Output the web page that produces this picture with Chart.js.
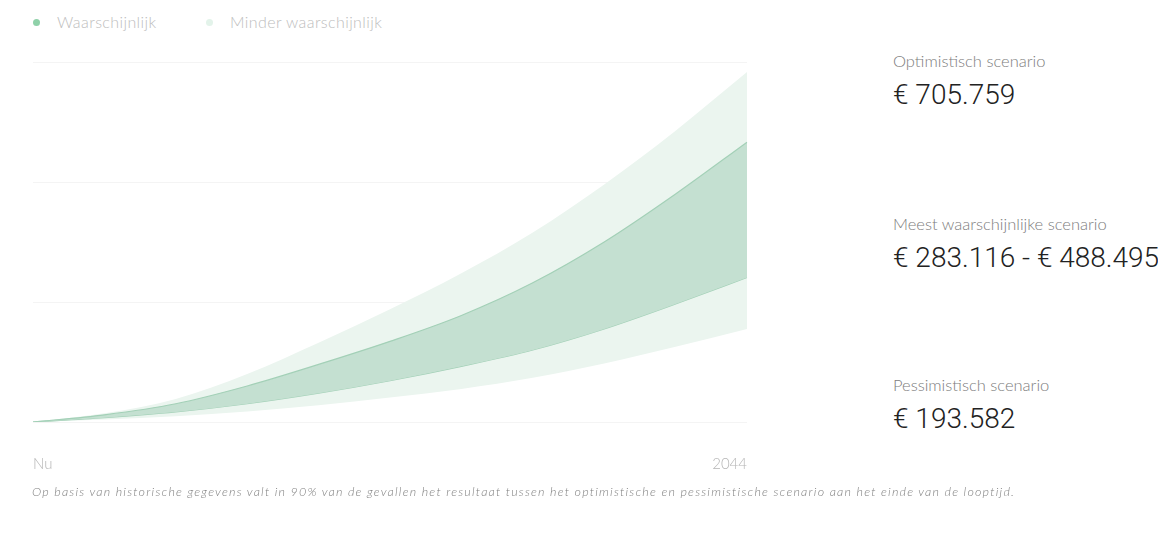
<!DOCTYPE html>
<html>
<head>
<meta charset="utf-8">
<script src="https://cdn.jsdelivr.net/npm/chart.js@4.4.1/dist/chart.umd.min.js"></script>
<style>
  body { margin: 0; background: #fff; width: 1158px; height: 533px; overflow: hidden; position: relative; font-family: Lato, "Noto Sans", sans-serif; }
  #wrap { position: absolute; left: 0; top: 0; width: 780px; height: 516px; }
  .legend { position: absolute; top: 12px; left: 33px; font-size: 16px; font-weight: 300; color: #bdbdbd; letter-spacing: 0.4px; }
  .legend span.item { position: absolute; white-space: nowrap; top: 0; }
  .legend i { position: absolute; width: 7px; height: 7px; border-radius: 50%; top: 7px; }
  .panel { position: absolute; left: 893px; }
  .panel .lbl { font-size: 16.5px; font-weight: 300; color: #7d7d7d; white-space: nowrap; }
  .panel .val { font-family: Roboto, sans-serif; font-weight: 300; font-size: 28px; color: #222; white-space: nowrap; margin-top: 7px; }
  .note { position: absolute; left: 32px; top: 484px; font-size: 12.5px; font-weight: 300; letter-spacing: 1.2px; font-style: italic; color: #808080; white-space: nowrap; }
</style>
</head>
<body>
<div class="legend">
  <span class="item" style="left:0"><i style="left:0;background:#8fd1a9"></i><span style="margin-left:24px">Waarschijnlijk</span></span>
  <span class="item" style="left:173px"><i style="left:0;background:#e3f3ea"></i><span style="margin-left:24px">Minder waarschijnlijk</span></span>
</div>
<div id="wrap"><canvas id="chart"></canvas></div>

<div class="panel" style="top:51px"><div class="lbl">Optimistisch scenario</div><div class="val">€ 705.759</div></div>
<div class="panel" style="top:214px"><div class="lbl">Meest waarschijnlijke scenario</div><div class="val">€ 283.116 - € 488.495</div></div>
<div class="panel" style="top:375px"><div class="lbl">Pessimistisch scenario</div><div class="val">€ 193.582</div></div>

<div class="note">Op basis van historische gegevens valt in 90% van de gevallen het resultaat tussen het optimistische en pessimistische scenario aan het einde van de looptijd.</div>

<script>
// years, every 2 years from now until 2044
const labels = ['Nu', '2026', '2028', '2030', '2032', '2034', '2036', '2038', '2040', '2042', '2044'];
// values in thousands of euros
const optimistic = [0, 18, 48, 100, 165, 235, 310, 395, 495, 607, 729];
const likelyHigh = [0, 15, 38, 75, 120, 168, 222, 290, 375, 475, 583];
const likelyLow = [0, 9, 21, 38, 60, 86, 116, 150, 194, 246, 301];
const pessimistic = [0, 5, 12, 22, 35, 51, 69, 92, 122, 157, 194];
const gridTicks = [0, 250, 500, 750];

const lightBand = '#ebf5ef';
const darkBand = '#c4e0d1';
const bandLine = '#a3d0b7';

var ctx = document.getElementById('chart').getContext('2d');

new Chart(ctx, {
    type: 'line',
    data: {
        labels: labels,
        datasets: [
            { label: 'Waarschijnlijk hoog', data: likelyHigh, borderColor: bandLine, borderWidth: 1.2, backgroundColor: darkBand, fill: '+1' },
            { label: 'Waarschijnlijk laag', data: likelyLow, borderColor: bandLine, borderWidth: 1.2, fill: false },
            { label: 'Optimistisch', data: optimistic, borderWidth: 0, borderColor: lightBand, backgroundColor: lightBand, fill: '+1' },
            { label: 'Pessimistisch', data: pessimistic, borderWidth: 0, borderColor: lightBand, fill: false }
        ]
    },
    options: {
        responsive: true,
        maintainAspectRatio: false,
        animation: false,
        elements: {
            point: { radius: 0 },
            line: { cubicInterpolationMode: 'monotone' }
        },
        layout: {
            padding: { left: 32, right: 32, top: 62, bottom: 10 }
        },
        plugins: {
            legend: { display: false },
            tooltip: { enabled: false }
        },
        scales: {
            x: {
                grid: { display: false, drawTicks: false },
                border: { display: false },
                ticks: {
                    autoSkip: false,
                    maxRotation: 0,
                    align: 'inner',
                    padding: 33,
                    color: '#b5b5b5',
                    font: { family: 'Lato', size: 15, weight: 300 },
                    callback(value, index) {
                        return (index === 0 || index === labels.length - 1) ? labels[index] : '';
                    }
                }
            },
            y: {
                min: gridTicks[0],
                max: gridTicks[gridTicks.length - 1],
                afterBuildTicks(axis) {
                    axis.ticks = gridTicks.map(v => ({ value: v }));
                },
                grid: { color: '#f4f4f4', drawTicks: false },
                border: { display: false },
                ticks: { display: false }
            }
        }
    }
});
</script>
</body>
</html>
